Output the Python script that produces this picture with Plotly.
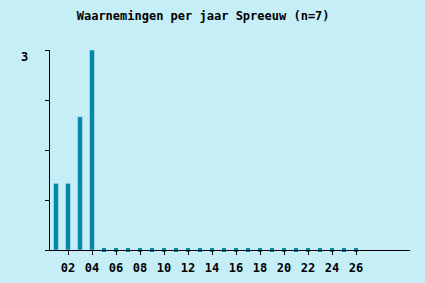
import plotly.graph_objects as go

years = [f"{i:02d}" for i in range(1, 27)]
counts = [1, 1, 2, 3] + [0] * 22
all_slots = [f"{i:02d}" for i in range(1, 31)]
tick_years = [f"{i:02d}" for i in range(2, 27, 2)]
y_ticks = [0, 0.75, 1.5, 2.25, 3]
y_max_label = "3"

bg = "#C6EEF6"
bar_color = "#0088A8"
font = "DejaVu Sans Mono"

fig = go.Figure()
fig.add_trace(go.Bar(x=years, y=counts, marker_color=bar_color, width=0.42))
zero_x = [y for y, c in zip(years, counts) if c == 0]
zero_y = [c for c in counts if c == 0]
fig.add_trace(go.Scatter(x=zero_x, y=zero_y, mode="markers",
                         marker=dict(symbol="square", size=4, color=bar_color, line_width=0),
                         cliponaxis=False))

fig.update_layout(
    width=425, height=283,
    margin=dict(l=50, r=15, t=50, b=33),
    paper_bgcolor=bg, plot_bgcolor=bg,
    showlegend=False,
    title=dict(text="<b>Waarnemingen per jaar Spreeuw (n=7)</b>", x=0.478, xanchor="center",
               y=0.945, yanchor="middle", font=dict(family=font, size=12, color="black")),
    font=dict(family=font, size=12, color="black"),
)
fig.add_annotation(text=f"<b>{y_max_label}</b>", xref="paper", yref="y", x=-0.07, y=float(y_max_label),
                   xanchor="center", yanchor="middle", yshift=-7, showarrow=False,
                   font=dict(family=font, size=12, color="black"))
fig.update_xaxes(type="category", categoryorder="array", categoryarray=all_slots,
                 range=[-0.5, 29.5], tickmode="array", tickvals=tick_years,
                 ticktext=[f"<b>{t}</b>" for t in tick_years],
                 ticks="outside", ticklen=4, tickcolor="black", showline=True,
                 linecolor="black", linewidth=1, showgrid=False, zeroline=False,
                 ticklabelstandoff=3, automargin=False,
                 tickfont=dict(family=font, size=12, color="black"))
fig.update_yaxes(range=[0, 3], tickmode="array", tickvals=y_ticks,
                 ticktext=["" for _ in y_ticks], automargin=False,
                 ticks="outside", ticklen=4, tickcolor="black", showline=True,
                 linecolor="black", linewidth=1, showgrid=False, zeroline=False)

fig.write_html("out.html")
